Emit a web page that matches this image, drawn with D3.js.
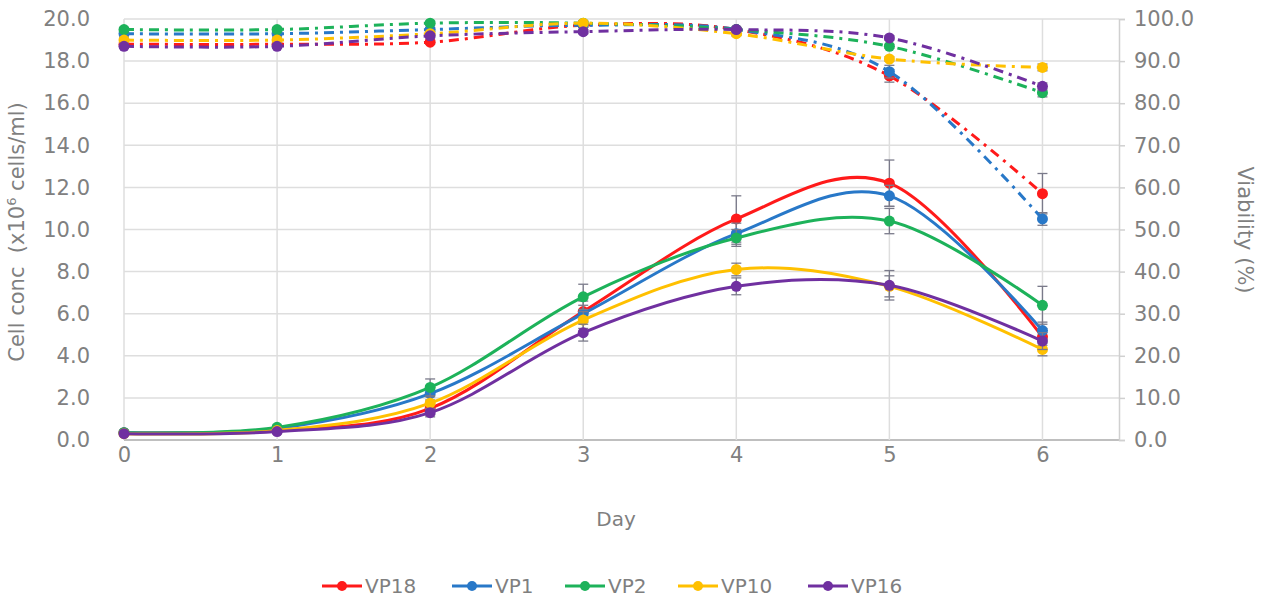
<!DOCTYPE html>
<html lang="en">
<head>
<meta charset="UTF-8">
<title>Cell conc and viability</title>
<script src="https://cdn.jsdelivr.net/npm/d3@7"></script>
<style>
    body { margin: 0; background: #fff; }
    #chart { width: 1265px; height: 604px; }
    text { font-family: "DejaVu Sans", sans-serif; fill: #7f7f7f; }
</style>
</head>
<body>
<div id="chart"></div>
<script>
// ---- data ----
var days = [0, 1, 2, 3, 4, 5, 6];
var names = ["VP18", "VP1", "VP2", "VP10", "VP16"];
var colors = ["#ff1a1a", "#2878c8", "#1db25a", "#ffc000", "#7030a0"];

// cell concentration (x10^6 cells/ml), left axis
var concVP18 = [0.35, 0.45, 1.5, 6.1, 10.5, 12.2, 4.9];
var concVP1  = [0.35, 0.55, 2.2, 6.0, 9.8, 11.6, 5.2];
var concVP2  = [0.35, 0.6, 2.5, 6.8, 9.6, 10.4, 6.4];
var concVP10 = [0.3, 0.45, 1.75, 5.7, 8.1, 7.3, 4.3];
var concVP16 = [0.3, 0.4, 1.3, 5.1, 7.3, 7.35, 4.7];

var concErrVP18 = [0.05, 0.1, 0.3, 0.5, 1.1, 1.1, 0.4];
var concErrVP1  = [0.05, 0.1, 0.3, 0.4, 0.5, 0.5, 0.4];
var concErrVP2  = [0.05, 0.1, 0.4, 0.6, 0.4, 0.6, 0.9];
var concErrVP10 = [0.05, 0.1, 0.3, 0.4, 0.3, 0.5, 0.3];
var concErrVP16 = [0.05, 0.1, 0.2, 0.4, 0.4, 0.7, 0.4];

// viability (%), right axis
var viaVP18 = [94, 94, 94.5, 98.5, 97.5, 86.5, 58.5];
var viaVP1  = [96.5, 96.5, 97.5, 98.5, 97.5, 87.5, 52.5];
var viaVP2  = [97.5, 97.5, 99, 99, 97.5, 93.5, 82.5];
var viaVP10 = [95, 95, 96.5, 99, 96.5, 90.5, 88.5];
var viaVP16 = [93.5, 93.5, 96, 97, 97.5, 95.5, 84];

var viaErrVP18 = [0.5, 0.5, 0.5, 0.5, 0.5, 1.5, 4.8];
var viaErrVP1  = [0.5, 0.5, 0.5, 0.5, 0.5, 1.5, 1.5];
var viaErrVP2  = [0.5, 0.5, 0.5, 0.5, 0.5, 0.5, 1.0];
var viaErrVP10 = [0.5, 0.5, 0.5, 0.5, 0.5, 0.5, 0.8];
var viaErrVP16 = [0.5, 0.5, 0.5, 0.5, 0.5, 0.5, 0.8];

var leftTicks = [0, 2, 4, 6, 8, 10, 12, 14, 16, 18, 20];
var rightTicks = [0, 10, 20, 30, 40, 50, 60, 70, 80, 90, 100];

var conc = [concVP18, concVP1, concVP2, concVP10, concVP16];
var concErr = [concErrVP18, concErrVP1, concErrVP2, concErrVP10, concErrVP16];
var via = [viaVP18, viaVP1, viaVP2, viaVP10, viaVP16];
var viaErr = [viaErrVP18, viaErrVP1, viaErrVP2, viaErrVP10, viaErrVP16];

// ---- drawing ----
var W = 1265, H = 604;
var pLeft = 124, pRight = 1119, pTop = 19, pBottom = 440;
var fs = "21px";

var svg = d3.select("#chart").append("svg")
    .attr("width", W)
    .attr("height", H);

var x = d3.scaleLinear().domain([0, 6.5]).range([pLeft, pRight]);
var yL = d3.scaleLinear().domain([0, 20]).range([pBottom, pTop]);
var yR = d3.scaleLinear().domain([0, 100]).range([pBottom, pTop]);

// grid
svg.append("g").selectAll("line").data(leftTicks).enter().append("line")
    .attr("x1", pLeft).attr("x2", pRight)
    .attr("y1", function (d) { return yL(d); })
    .attr("y2", function (d) { return yL(d); })
    .style("stroke", function (d) { return d == 0 ? "#bfbfbf" : "#dedede"; })
    .style("stroke-width", function (d) { return d == 0 ? 2 : 1.5; });

svg.append("g").selectAll("line").data(days).enter().append("line")
    .attr("x1", function (d) { return x(d); })
    .attr("x2", function (d) { return x(d); })
    .attr("y1", pTop).attr("y2", pBottom)
    .style("stroke", "#dedede")
    .style("stroke-width", 1.5);

// axes
var axL = svg.append("g").attr("transform", "translate(" + (pLeft - 6) + ",0)")
    .call(d3.axisLeft(yL).tickValues(leftTicks).tickFormat(d3.format(".1f")).tickSize(0).tickPadding(28));
axL.select(".domain").remove();

var axR = svg.append("g").attr("transform", "translate(" + pRight + ",0)")
    .call(d3.axisRight(yR).tickValues(rightTicks).tickFormat(d3.format(".1f")).tickSize(6).tickPadding(9));
axR.select(".domain").style("stroke", "#d0d0d0").style("stroke-width", 1.5);
axR.selectAll(".tick line").style("stroke", "#d0d0d0").style("stroke-width", 1.5);

var axB = svg.append("g").attr("transform", "translate(0," + pBottom + ")")
    .call(d3.axisBottom(x).tickValues(days).tickFormat(d3.format("d")).tickSize(0).tickPadding(7));
axB.select(".domain").remove();

svg.selectAll(".tick text").style("font-size", fs).style("fill", "#808080")
    .style("font-family", "'DejaVu Sans', sans-serif");

// axis titles
svg.append("text")
    .attr("transform", "translate(24,232) rotate(-90)")
    .attr("text-anchor", "middle")
    .style("font-size", fs)
    .html("Cell conc&#160; (x10<tspan dy='-8' font-size='13px'>6</tspan><tspan dy='8'> cells/ml)</tspan>");

svg.append("text")
    .attr("transform", "translate(1238,230) rotate(90)")
    .attr("text-anchor", "middle")
    .style("font-size", fs)
    .text("Viability (%)");

svg.append("text")
    .attr("x", 616).attr("y", 526)
    .attr("text-anchor", "middle")
    .style("font-size", "20px")
    .text("Day");

var smooth = d3.curveCardinal.tension(0);

function drawSeries(vals, errs, yScale, color, dashed) {
    var g = svg.append("g");
    var pts = days.map(function (d, i) { return {d: d, v: vals[i], e: errs[i]}; });

    // error bars
    var eb = g.selectAll("g.err").data(pts).enter().append("g");
    eb.append("line")
        .attr("x1", function (p) { return x(p.d); })
        .attr("x2", function (p) { return x(p.d); })
        .attr("y1", function (p) { return yScale(p.v - p.e); })
        .attr("y2", function (p) { return yScale(p.v + p.e); })
        .style("stroke", "#7a7a8a").style("stroke-width", 1.3);
    [-1, 1].forEach(function (s) {
        eb.append("line")
            .attr("x1", function (p) { return x(p.d) - 5; })
            .attr("x2", function (p) { return x(p.d) + 5; })
            .attr("y1", function (p) { return yScale(p.v + s * p.e); })
            .attr("y2", function (p) { return yScale(p.v + s * p.e); })
            .style("stroke", "#7a7a8a").style("stroke-width", 1.3);
    });

    var line = d3.line()
        .x(function (p) { return x(p.d); })
        .y(function (p) { return yScale(p.v); })
        .curve(smooth);

    g.append("path")
        .datum(pts)
        .attr("d", line)
        .style("fill", "none")
        .style("stroke", color)
        .style("stroke-width", 3)
        .style("stroke-dasharray", dashed ? "10,6,3,6" : null);

    g.selectAll("circle").data(pts).enter().append("circle")
        .attr("cx", function (p) { return x(p.d); })
        .attr("cy", function (p) { return yScale(p.v); })
        .attr("r", 5.5)
        .style("fill", color);
}

for (var i = 0; i < names.length; i++) {
    drawSeries(via[i], viaErr[i], yR, colors[i], true);
}
for (var i = 0; i < names.length; i++) {
    drawSeries(conc[i], concErr[i], yL, colors[i], false);
}

// legend
var legX = [322, 452, 565, 678, 808];
var leg = svg.append("g").selectAll("g").data(names).enter().append("g")
    .attr("transform", function (d, i) { return "translate(" + legX[i] + ",586)"; });
leg.append("line")
    .attr("x1", 0).attr("x2", 40).attr("y1", 0).attr("y2", 0)
    .style("stroke", function (d, i) { return colors[i]; })
    .style("stroke-width", 3);
leg.append("circle")
    .attr("cx", 20).attr("cy", 0).attr("r", 5)
    .style("fill", function (d, i) { return colors[i]; });
leg.append("text")
    .attr("x", 43).attr("y", 7)
    .style("font-size", "20px")
    .text(function (d) { return d; });
</script>
</body>
</html>
